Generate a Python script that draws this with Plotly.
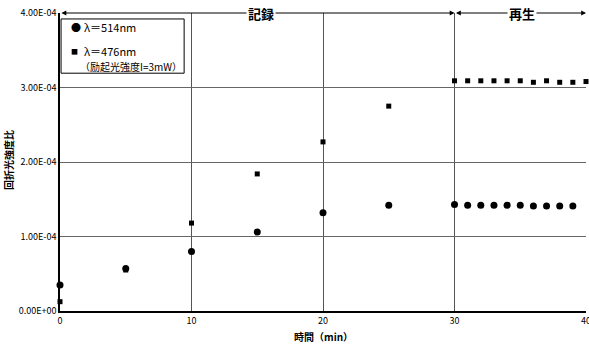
import plotly.graph_objects as go

# Data
t_514 = [0, 5, 10, 15, 20, 25, 30, 31, 32, 33, 34, 35, 36, 37, 38, 39]
v_514 = [3.5e-5, 5.7e-5, 8.0e-5, 1.06e-4, 1.32e-4, 1.42e-4,
         1.43e-4, 1.42e-4, 1.42e-4, 1.42e-4, 1.42e-4, 1.42e-4, 1.41e-4, 1.41e-4, 1.41e-4, 1.41e-4]
t_476 = [0, 5, 10, 15, 20, 25, 30, 31, 32, 33, 34, 35, 36, 37, 38, 39, 40]
v_476 = [1.25e-5, 5.5e-5, 1.18e-4, 1.84e-4, 2.27e-4, 2.75e-4,
         3.09e-4, 3.09e-4, 3.09e-4, 3.09e-4, 3.09e-4, 3.09e-4, 3.07e-4, 3.09e-4, 3.07e-4, 3.07e-4, 3.08e-4]
y_tickvals = [0, 1e-4, 2e-4, 3e-4, 4e-4]
y_ticktext = ["0.00E+00", "1.00E-04", "2.00E-04", "3.00E-04", "4.00E-04"]
x_tickvals = [0, 10, 20, 30, 40]
phase_labels = ["記録", "再生"]
phase_bounds = [0, 30, 40]
phase_label_pos = [15.3, 35.1]
legend_514 = "λ＝514nm"
legend_476 = "λ＝476nm"
legend_476_note = "（励起光強度I=3mW）"

FONT = "Noto Sans CJK JP, Noto Sans, sans-serif"

fig = go.Figure()
fig.add_trace(go.Scatter(
    x=t_514, y=v_514, mode="markers", name=legend_514,
    marker=dict(symbol="circle", size=7, color="black"), cliponaxis=False))
fig.add_trace(go.Scatter(
    x=t_476, y=v_476, mode="markers", name=legend_476,
    marker=dict(symbol="square", size=5, color="black"), cliponaxis=False))

ann = []
for i, lab in enumerate(phase_labels):
    x0, x1 = phase_bounds[i], phase_bounds[i + 1]
    ann.append(dict(x=x1, y=4e-4, xref="x", yref="y", ax=x0, ay=4e-4, axref="x", ayref="y",
                    showarrow=True, arrowhead=2, arrowside="end+start", arrowsize=0.8,
                    arrowwidth=1.2, arrowcolor="black", text=""))
    ann.append(dict(x=phase_label_pos[i], y=4e-4, xref="x", yref="y", text="<b>" + lab + "</b>",
                    showarrow=False, bgcolor="white", borderpad=1,
                    font=dict(family=FONT, size=13, color="black")))

# axis titles
ann.append(dict(x=0.5, y=-0.087, xref="paper", yref="paper", yanchor="middle",
                text="<b>時間（min）</b>", showarrow=False,
                font=dict(family=FONT, size=10, color="black")))
ann.append(dict(x=-0.097, y=0.507, xref="paper", yref="paper", xanchor="center", yanchor="middle",
                text="<b>回折光強度比</b>", showarrow=False, textangle=-90,
                font=dict(family=FONT, size=10, color="black")))

# manual legend
LF = dict(family=FONT, size=11, color="black")
ann += [
    dict(x=0.030, y=0.953, xref="paper", yref="paper", text="●", showarrow=False,
         xanchor="center", yanchor="middle", font=dict(family=FONT, size=10, color="black")),
    dict(x=0.042, y=0.953, xref="paper", yref="paper", text=legend_514, showarrow=False,
         xanchor="left", yanchor="middle", font=LF),
    dict(x=0.0285, y=0.872, xref="paper", yref="paper", text="■", showarrow=False,
         xanchor="center", yanchor="middle", font=dict(family=FONT, size=7, color="black")),
    dict(x=0.042, y=0.872, xref="paper", yref="paper", text=legend_476, showarrow=False,
         xanchor="left", yanchor="middle", font=LF),
    dict(x=0.034, y=0.822, xref="paper", yref="paper", text=legend_476_note, showarrow=False,
         xanchor="left", yanchor="middle", font=dict(family=FONT, size=10, color="black")),
]

fig.update_layout(
    width=589, height=347,
    margin=dict(l=60, r=3, t=13, b=36, autoexpand=False),
    paper_bgcolor="white", plot_bgcolor="white",
    font=dict(family=FONT, size=9, color="black"),
    showlegend=False,
    xaxis=dict(range=[0, 40], tickvals=x_tickvals, showgrid=True, gridcolor="#555555",
               gridwidth=1, showline=True, linecolor="black", linewidth=1.5,
               ticks="", zeroline=False, tickfont=dict(size=9), automargin=False,
               ticklabeloverflow="allow"),
    yaxis=dict(range=[0, 4e-4], tickvals=y_tickvals, ticktext=y_ticktext,
               showgrid=True, gridcolor="#666666", gridwidth=1, showline=True,
               linecolor="black", linewidth=1.5, ticks="", zeroline=False,
               tickfont=dict(size=9), automargin=False),
    shapes=[dict(type="rect", xref="paper", yref="paper", x0=0.002, x1=0.236, y0=0.798, y1=0.980,
                 line=dict(color="black", width=1), fillcolor="white", layer="above")],
    annotations=ann,
)

fig.write_html("out.html", config={"displayModeBar": False},
               post_script="document.body.style.margin='0';document.body.style.padding='0';")
